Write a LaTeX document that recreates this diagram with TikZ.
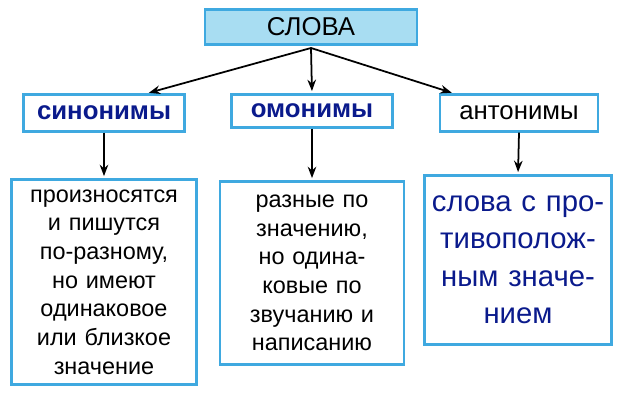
\documentclass[tikz,border=0pt]{standalone}
\usepackage{fontspec}
\setmainfont{Liberation Sans}
\usetikzlibrary{arrows.meta, positioning}
\definecolor{boxblue}{HTML}{3FA9E0}
\definecolor{topfill}{HTML}{A8DDF2}
\definecolor{textblue}{HTML}{0A1A8C}

\begin{document}
\begin{tikzpicture}[x=0.03cm, y=-0.03cm]
\useasboundingbox (0,0) rectangle (628,402);
\begin{scope}[every node/.style={shape=rectangle,
    draw=boxblue, line width=1.8pt, align=center, inner sep=0pt,
    font=\fontsize{22}{26}\selectfont},
    line/.style={draw, -Stealth}]
    \node[fill=topfill, minimum width=212*0.03cm, minimum height=35*0.03cm] (a) at (311,27) {СЛОВА};
    \node[minimum width=161*0.03cm, minimum height=37*0.03cm, text=textblue] (b) at (104,113) {\textbf{синонимы}};
    \node[minimum width=161*0.03cm, minimum height=33*0.03cm, text=textblue] (c) at (312,111) {\textbf{омонимы}};
    \node[minimum width=158*0.03cm, minimum height=37*0.03cm] (d) at (519,113) {антонимы};
\end{scope}

\begin{scope}[every node/.style={shape=rectangle,
    draw=boxblue, line width=1.8pt, align=center, inner sep=0pt,
    font=\fontsize{20}{24.5}\selectfont}]
    \node[minimum width=185*0.03cm, minimum height=205*0.03cm, text width=175*0.03cm] (e) at (104,282) {произносятся\\и пишутся\\по-разному,\\но имеют\\одинаковое\\или близкое\\значение};
    \node[minimum width=184*0.03cm, minimum height=183*0.03cm, text width=175*0.03cm] (f) at (312,273) {разные по\\значению,\\но одина-\\ковые по\\звучанию и\\написанию};
    \node[minimum width=187*0.03cm, minimum height=169*0.03cm, text width=180*0.03cm, text=textblue, font=\fontsize{25}{32}\selectfont] (g) at (518,260) {слова с про-\\тивополож-\\ным значе-\\нием};
\end{scope}

\begin{scope}[every edge/.style={-Stealth, draw, line width=1.5pt, shorten >=2pt}]
    \coordinate (top) at (311,48);
    \path (top) edge ([xshift=-39*0.03cm]b.north east);
    \path (top) edge (c.north);
    \path (top) edge ([xshift=-65*0.03cm]d.north);
    \path (b.south) edge (e.north);
    \path (c.south) edge (f.north);
    \path (d.south) edge (g.north);
\end{scope}
\end{tikzpicture}
\end{document}
